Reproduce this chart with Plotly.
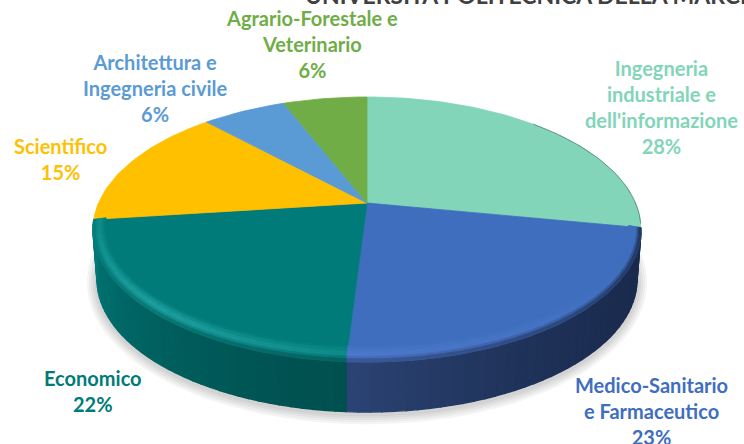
import math
import plotly.graph_objects as go

categories = ["Ingegneria<br>industriale e<br>dell'informazione", "Medico-Sanitario<br>e Farmaceutico", "Economico",
              "Scientifico", "Architettura e<br>Ingegneria civile", "Agrario-Forestale e<br>Veterinario"]
values = [28, 23, 22, 15, 6, 6]
colors = ["#82D5B8", "#3F6EBE", "#007B79", "#FFC000", "#5B9BD5", "#70AD47"]
wall_left = ["#82D5B8", "#2C4475", "#007A78", "#FFC000", "#5B9BD5", "#70AD47"]
wall_right = ["#82D5B8", "#1A2B4E", "#00504F", "#FFC000", "#5B9BD5", "#70AD47"]
highlight = ["#82D5B8", "#4E79CC", "#25A8A8", "#FFC000", "#5B9BD5", "#70AD47"]
label_x = [661, 651, 93, 60, 155, 312]
label_y = [107, 411, 391, 159, 88, 44]
title = "UNIVERSITÀ POLITECNICA DELLA MARCHE"

CX, CY, A, B, K, DEPTH, FOOT = 367, 203, 268.5, 127.2, 0.2, 50, 0.985


def rgb(h):
    return [int(h[i:i + 2], 16) for i in (1, 3, 5)]


def mix(c1, c2, t):
    a, b = rgb(c1), rgb(c2)
    return "#%02X%02X%02X" % tuple(round(a[i] + (b[i] - a[i]) * t) for i in range(3))


def proj(theta, rx=1.0, ry=1.0, dz=0.0, grow=0.0):
    t = math.radians(theta)
    X, Y = math.sin(t), -math.cos(t)
    s = 1 / (1 - K * Y)
    return CX + (A * rx * X * s) + grow * X, CY + B * ry * Y * s + dz + grow * max(Y, 0)


def poly(pts, color, width=0.8):
    xs = [p[0] for p in pts] + [pts[0][0]]
    ys = [p[1] for p in pts] + [pts[0][1]]
    return go.Scatter(x=xs, y=ys, mode="lines", fill="toself", fillcolor=color,
                      line=dict(color=color, width=width), hoverinfo="skip", showlegend=False)


total = sum(values)
bounds = [0]
for v in values:
    bounds.append(bounds[-1] + v / total * 360)

fig = go.Figure()

# soft shadow beneath the disc
for g in range(10, 0, -2):
    pts = [proj(a, rx=FOOT, dz=DEPTH + 2, grow=g) for a in range(0, 360, 3)]
    fig.add_trace(poly(pts, "rgba(0,0,0,0.035)"))

# side wall for the two front slices
for i in (1, 2):
    a0, a1 = bounds[i], bounds[i + 1]
    n = 40
    for j in range(n):
        u0 = a0 + (a1 - a0) * j / n
        u1 = a0 + (a1 - a0) * (j + 1) / n
        t = (j + 0.5) / n
        c = mix(wall_right[i], wall_left[i], t ** (1.3 if i == 2 else 2.5))
        fig.add_trace(poly([proj(u0), proj(u1), proj(u1, rx=FOOT, dz=DEPTH), proj(u0, rx=FOOT, dz=DEPTH)], c, 1.4))

# top faces
for i, v in enumerate(values):
    n = max(8, int(v * 2))
    arc = [proj(bounds[i] + (bounds[i + 1] - bounds[i]) * j / n) for j in range(n + 1)]
    fig.add_trace(poly([(CX, CY)] + arc, colors[i]))

# thin dark edge on the right of the first slice
edge = [proj(a) for a in range(45, 101, 2)]
fig.add_trace(go.Scatter(x=[p[0] for p in edge], y=[p[1] for p in edge], mode="lines",
                         line=dict(color="rgba(60,90,80,0.55)", width=1), hoverinfo="skip", showlegend=False))

# rounded rim on the front slices
rings = [(0.955, 0.90, 0.0), (0.962, 0.915, 0.3), (0.97, 0.935, 0.65), (0.977, 0.95, 0.9),
         (0.985, 0.965, 0.7), (0.992, 0.98, 0.4), (1.0, 1.0, 0.1)]
for i in (1, 2):
    a0, a1 = bounds[i], bounds[i + 1]
    n = 24
    for j in range(n):
        u0 = a0 + (a1 - a0) * j / n
        u1 = a0 + (a1 - a0) * (j + 1) / n
        f = (j + 0.5) / n
        strength = (0.4 + 0.6 * (1 - abs(f - 0.5) * 1.9)) if i == 2 else max(0.0, f * 1.4 - 0.3)
        wall_c = mix(wall_left[i], wall_right[i], 1 - f)
        for q in range(len(rings) - 1):
            rx0, ry0, h0 = rings[q]
            rx1, ry1, h1 = rings[q + 1]
            h = (h0 + h1) / 2 * strength
            base = colors[i] if q < 4 else mix(colors[i], wall_c, (q - 3) / 2.5)
            c = mix(base, highlight[i], h)
            fig.add_trace(poly([proj(u0, rx0, ry0), proj(u1, rx0, ry0), proj(u1, rx1, ry1), proj(u0, rx1, ry1)], c))

annotations = []
for i, name in enumerate(categories):
    annotations.append(dict(x=label_x[i], y=label_y[i], xref="x", yref="y", showarrow=False,
                            text="%s<br>%d%%" % (name, values[i]), align="center",
                            font=dict(family="Lato", size=20, color=colors[i], weight="bold")))
annotations.append(dict(x=303, y=11, xref="x", yref="y", showarrow=False, xanchor="left", yanchor="bottom",
                        text=title, font=dict(family="Lato", size=23, color="#404040", weight="bold")))

fig.update_layout(width=744, height=444, margin=dict(l=0, r=0, t=0, b=0),
                  paper_bgcolor="white", plot_bgcolor="white", showlegend=False,
                  xaxis=dict(range=[0, 744], visible=False, fixedrange=True),
                  yaxis=dict(range=[444, 0], visible=False, fixedrange=True),
                  annotations=annotations)
fig.write_html("out.html", config=dict(displayModeBar=False),
               post_script="document.body.style.margin='0';document.body.style.overflow='hidden';")
